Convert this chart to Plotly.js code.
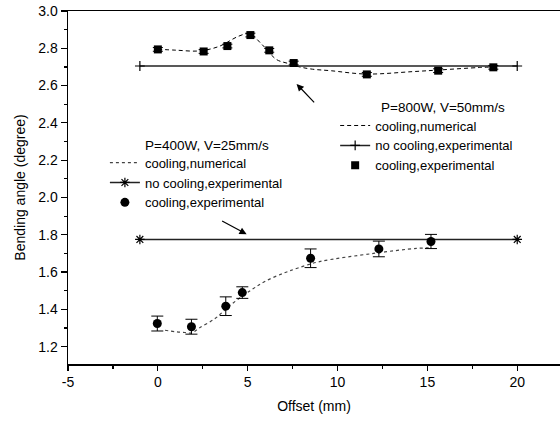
<!DOCTYPE html>
<html>
<head>
<meta charset="utf-8">
<script src="https://cdn.plot.ly/plotly-3.0.1.min.js"></script>
<style>html,body{margin:0;padding:0;background:#fff;}#chart{width:560px;height:421px;}</style>
</head>
<body>
<div id="chart"></div>
<script>
// ---- data ----
// P=800W, V=50mm/s
const num800X = [0, 1.0, 2.3, 3.4, 4.5, 5.1, 5.8, 6.6, 7.2, 7.9, 8.6, 9.6, 11.6, 14.2, 15.7, 17.9, 18.7];
const num800Y = [2.795, 2.79, 2.786, 2.81, 2.865, 2.878, 2.82, 2.74, 2.72, 2.70, 2.688, 2.68, 2.662, 2.675, 2.684, 2.697, 2.70];
const noCool800X = [-1, 20];
const noCool800Y = [2.705, 2.705];
const exp800X = [0, 2.55, 3.87, 5.15, 6.2, 7.56, 11.63, 15.6, 18.67];
const exp800Y = [2.794, 2.783, 2.812, 2.871, 2.789, 2.721, 2.66, 2.68, 2.698];
const exp800Err = [0.01, 0.01, 0.01, 0.01, 0.01, 0.01, 0.01, 0.01, 0.01];

// P=400W, V=25mm/s
const num400X = [0.4, 1.0, 1.5, 1.9, 2.3, 3.2, 4.0, 5.2, 6.0, 7.0, 7.8, 9.0, 12.0, 14.4, 15.2];
const num400Y = [1.288, 1.28, 1.276, 1.274, 1.30, 1.352, 1.42, 1.504, 1.552, 1.594, 1.622, 1.656, 1.70, 1.727, 1.73];
const noCool400X = [-1, 20];
const noCool400Y = [1.775, 1.775];
const exp400X = [-0.03, 1.87, 3.78, 4.7, 8.5, 12.3, 15.2];
const exp400Y = [1.324, 1.307, 1.417, 1.49, 1.674, 1.724, 1.764];
const exp400Err = [0.04, 0.04, 0.05, 0.031, 0.05, 0.042, 0.038];

// tick labels
const xTickVals = [-5, 0, 5, 10, 15, 20];
const xTickText = ['-5', '0', '5', '10', '15', '20'];
const xMinorStep = 2.5;
const yTickStart = 1.2, yTickStep = 0.2, yMinorStep = 0.1;

const FONT = 'Arial, "Liberation Sans", sans-serif';
const black = '#000';

const traces = [
  { x: num800X, y: num800Y, mode: 'lines', name: 'cooling,numerical', legend: 'legend2',
    line: { color: black, width: 1, dash: '4px,3px', shape: 'spline' } },
  { x: noCool800X, y: noCool800Y, mode: 'lines+markers', name: 'no cooling,experimental', legend: 'legend2',
    line: { color: '#222', width: 1.5 }, marker: { symbol: 'cross-thin-open', size: 7, color: black, line: { width: 1.2, color: black } } },
  { x: exp800X, y: exp800Y, mode: 'markers', name: 'cooling,experimental', legend: 'legend2',
    marker: { symbol: 'square', size: 8, color: black },
    error_y: { type: 'data', array: exp800Err, visible: true, color: black, thickness: 1, width: 5 } },

  { x: num400X, y: num400Y, mode: 'lines', name: 'cooling,numerical', legend: 'legend',
    line: { color: '#444', width: 1.2, dash: 'dot', shape: 'spline' } },
  { x: noCool400X, y: noCool400Y, mode: 'lines+markers', name: 'no cooling,experimental', legend: 'legend',
    line: { color: '#222', width: 1.5 }, marker: { symbol: 'asterisk-open', size: 8, color: black, line: { width: 1.2, color: black } } },
  { x: exp400X, y: exp400Y, mode: 'markers', name: 'cooling,experimental', legend: 'legend',
    marker: { symbol: 'circle', size: 9, color: black },
    error_y: { type: 'data', array: exp400Err, visible: true, color: black, thickness: 1, width: 6 } }
];

const legendCommon = {
  bgcolor: 'rgba(0,0,0,0)', borderwidth: 0, xanchor: 'left', yanchor: 'top',
  font: { family: FONT, size: 13, color: black }, traceorder: 'normal', tracegroupgap: 0
};

const layout = {
  width: 560, height: 421,
  margin: { l: 68, r: 0, t: 11, b: 57 },
  paper_bgcolor: '#fff', plot_bgcolor: '#fff',
  font: { family: FONT, size: 14, color: black },
  showlegend: true,
  xaxis: {
    range: [-5, 22.38], showgrid: false, zeroline: false,
    showline: true, linecolor: black, linewidth: 1.5, mirror: true,
    ticks: 'outside', ticklen: 5, tickwidth: 1.2, tickcolor: black,
    tickmode: 'array', tickvals: xTickVals, ticktext: xTickText,
    minor: { ticks: 'outside', ticklen: 3, tickwidth: 1.2, tickcolor: black, dtick: xMinorStep, tick0: -5 },
    tickfont: { family: FONT, size: 14 },
    title: { text: 'Offset (mm)', font: { family: FONT, size: 14 }, standoff: 12 }
  },
  yaxis: {
    range: [1.107, 3.0], showgrid: false, zeroline: false,
    showline: true, linecolor: black, linewidth: 1.5, mirror: false,
    ticks: 'outside', ticklen: 6, tickwidth: 1.2, tickcolor: black,
    tick0: yTickStart, dtick: yTickStep, tickformat: '.1f',
    minor: { ticks: 'outside', ticklen: 3, tickwidth: 1.2, tickcolor: black, dtick: yMinorStep, tick0: yTickStart },
    tickfont: { family: FONT, size: 14 },
    title: { text: 'Bending angle (degree)', font: { family: FONT, size: 14 }, standoff: 9 }
  },
  legend: Object.assign({ x: 0.075, y: 0.613 }, legendCommon),
  legend2: Object.assign({ x: 0.543, y: 0.718 }, legendCommon),
  annotations: [
    { xref: 'paper', yref: 'paper', x: (143 - 68) / 492, y: 1 - (145.7 - 11) / 353, xanchor: 'left', yanchor: 'middle',
      text: 'P=400W, V=25mm/s', showarrow: false, font: { family: FONT, size: 13.5, color: black } },
    { xref: 'paper', yref: 'paper', x: (379 - 68) / 492, y: 1 - (107.7 - 11) / 353, xanchor: 'left', yanchor: 'middle',
      text: 'P=800W, V=50mm/s', showarrow: false, font: { family: FONT, size: 13.5, color: black } },
    { x: 7.72, y: 2.609, ax: 19, ay: 20, text: '', showarrow: true, arrowhead: 2, arrowsize: 1.2, arrowwidth: 1.2, arrowcolor: black },
    { x: 4.94, y: 1.803, ax: -26, ay: -14, text: '', showarrow: true, arrowhead: 2, arrowsize: 1.2, arrowwidth: 1.2, arrowcolor: black }
  ]
};

Plotly.newPlot('chart', traces, layout, { displayModeBar: false, staticPlot: true });
</script>
</body>
</html>
